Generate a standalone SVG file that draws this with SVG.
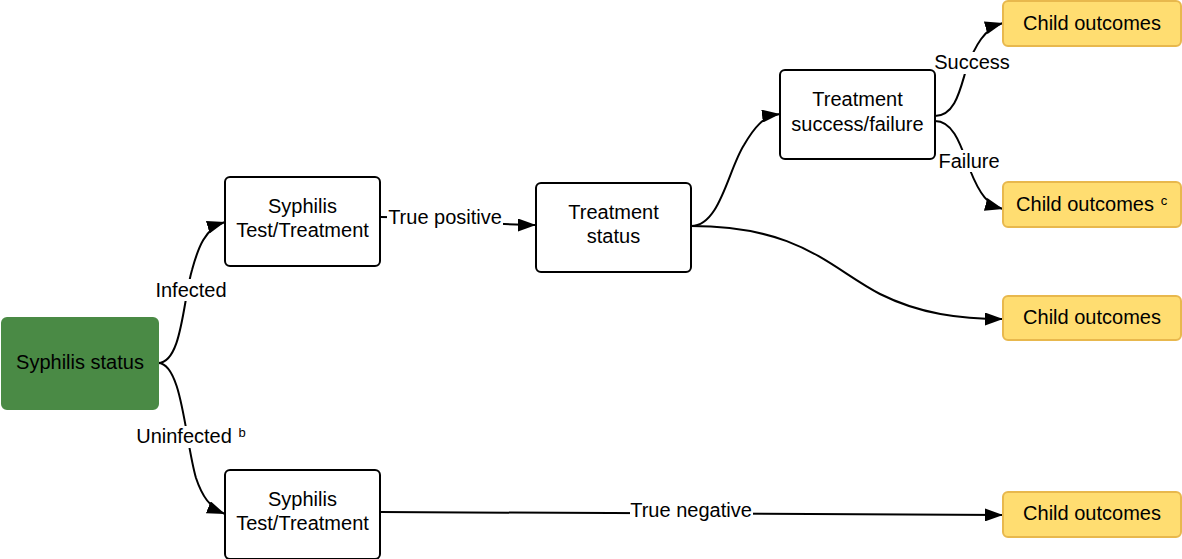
<svg xmlns="http://www.w3.org/2000/svg" width="1182" height="559" viewBox="0 0 1182 559">
<style>
text{font-family:"Liberation Sans",Arial,sans-serif;font-size:20px;fill:#000;text-anchor:middle}
.box{fill:#fff;stroke:#000;stroke-width:2}
.child{fill:#ffdd71;stroke:#e8b84d;stroke-width:2}
.status{fill:#4a8a45;stroke:#4a8a45;stroke-width:2}
.conn{fill:none;stroke:#000;stroke-width:2;marker-end:url(#arr)}
.lbg{fill:#fff}
.sup{font-size:13px}
</style>
<defs>
<marker id="arr" viewBox="0 0 18 13" refX="18" refY="6.5" markerWidth="18" markerHeight="13" markerUnits="userSpaceOnUse" orient="auto">
<path d="M0,0 L18,6.5 L0,13 Z" fill="#000"/>
</marker>
</defs>
<g id="connectors">
<path class="conn" d="M158,363 C182,363 183,300 192,270 C198,248 205,228 225,222"/>
<path class="conn" d="M158,363 C182,363 185,440 196,478 C202,496 210,508 225,514"/>
<path class="conn" d="M380,217 C440,217 480,225 536,225"/>
<path class="conn" d="M691,226 C720,226 728,170 744,145 C754,128 763,116 780,114"/>
<path class="conn" d="M691,226 C800,226 830,268 880,294 C920,314 960,319 1003,319"/>
<path class="conn" d="M935,116 C955,116 960,90 966,70 C975,45 985,28 1003,23"/>
<path class="conn" d="M935,121 C955,121 962,150 970,170 C980,195 988,205 1003,209"/>
<path class="conn" d="M380,512 L1003,515"/>
<rect class="lbg" x="154" y="279" width="75" height="22"/>
<text x="191" y="297">Infected</text>
<rect class="lbg" x="135" y="426" width="114" height="22"/>
<text x="184" y="443">Uninfected</text>
<text class="sup" x="242" y="437">b</text>
<rect class="lbg" x="387" y="207" width="116" height="22"/>
<text x="445" y="224">True positive</text>
<rect class="lbg" x="932" y="52" width="80" height="22"/>
<text x="972" y="69">Success</text>
<rect class="lbg" x="937" y="150" width="64" height="22"/>
<text x="969" y="168">Failure</text>
<rect class="lbg" x="630" y="500" width="123" height="22"/>
<text x="691" y="517">True negative</text>
</g>
<g id="syphilis-status">
<rect class="status" x="2" y="318" width="156" height="91" rx="5"/>
<text x="80" y="369">Syphilis status</text>
</g>
<g id="test-infected">
<rect class="box" x="225" y="177" width="155" height="89" rx="5"/>
<text x="302.5" y="213">Syphilis</text>
<text x="302.5" y="237">Test/Treatment</text>
</g>
<g id="test-uninfected">
<rect class="box" x="225" y="470" width="155" height="89" rx="5"/>
<text x="302.5" y="506">Syphilis</text>
<text x="302.5" y="530">Test/Treatment</text>
</g>
<g id="treatment-status">
<rect class="box" x="536" y="183" width="155" height="89" rx="5"/>
<text x="613.5" y="219">Treatment</text>
<text x="613.5" y="243">status</text>
</g>
<g id="treatment-success-failure">
<rect class="box" x="780" y="70" width="155" height="89" rx="5"/>
<text x="857.5" y="106">Treatment</text>
<text x="857.5" y="131">success/failure</text>
</g>
<g id="child-success">
<rect class="child" x="1003" y="1" width="178" height="45" rx="5"/>
<text x="1092" y="30">Child outcomes</text>
</g>
<g id="child-failure">
<rect class="child" x="1003" y="182" width="178" height="45" rx="5"/>
<text x="1085" y="211">Child outcomes</text>
<text class="sup" x="1164" y="205">c</text>
</g>
<g id="child-untreated">
<rect class="child" x="1003" y="296" width="178" height="44" rx="5"/>
<text x="1092" y="324">Child outcomes</text>
</g>
<g id="child-negative">
<rect class="child" x="1003" y="492" width="178" height="45" rx="5"/>
<text x="1092" y="520">Child outcomes</text>
</g>
</svg>
